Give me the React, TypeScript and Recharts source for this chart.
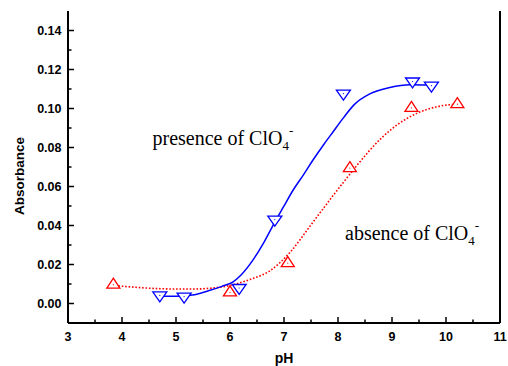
import React from 'react';
import {
  ComposedChart,
  Line,
  Scatter,
  XAxis,
  YAxis,
  Customized,
} from 'recharts';

// measured points (pH, absorbance)
const presencePoints = [
  { x: 4.7, y: 0.0039 },
  { x: 5.15, y: 0.0033 },
  { x: 6.17, y: 0.0077 },
  { x: 6.83, y: 0.0428 },
  { x: 8.1, y: 0.1074 },
  { x: 9.38, y: 0.1136 },
  { x: 9.73, y: 0.1115 },
];

const absencePoints = [
  { x: 3.84, y: 0.0099 },
  { x: 6.0, y: 0.006 },
  { x: 7.07, y: 0.021 },
  { x: 8.22, y: 0.0697 },
  { x: 9.36, y: 0.1006 },
  { x: 10.21, y: 0.1025 },
];

// fitted curves
const presenceFit = [
  { x: 4.7, y: 0.0037 }, { x: 5.0, y: 0.0037 }, { x: 5.3, y: 0.0043 },
  { x: 5.6, y: 0.0065 }, { x: 5.85, y: 0.0088 }, { x: 6.05, y: 0.011 },
  { x: 6.2, y: 0.0145 }, { x: 6.43, y: 0.0225 }, { x: 6.62, y: 0.031 },
  { x: 6.77, y: 0.0387 }, { x: 6.99, y: 0.0495 }, { x: 7.17, y: 0.0582 },
  { x: 7.36, y: 0.066 }, { x: 7.54, y: 0.0737 }, { x: 7.73, y: 0.0813 },
  { x: 7.91, y: 0.0881 }, { x: 8.1, y: 0.0952 }, { x: 8.3, y: 0.102 },
  { x: 8.59, y: 0.1075 }, { x: 8.96, y: 0.1108 }, { x: 9.33, y: 0.1122 },
  { x: 9.7, y: 0.112 },
];

const absenceFit = [
  { x: 3.87, y: 0.0092 }, { x: 4.3, y: 0.0082 }, { x: 4.7, y: 0.0076 },
  { x: 5.1, y: 0.0074 }, { x: 5.44, y: 0.0075 }, { x: 5.7, y: 0.008 },
  { x: 5.94, y: 0.0089 }, { x: 6.15, y: 0.0103 }, { x: 6.37, y: 0.0123 },
  { x: 6.74, y: 0.0168 }, { x: 7.11, y: 0.0262 }, { x: 7.48, y: 0.0396 },
  { x: 7.85, y: 0.0532 }, { x: 8.04, y: 0.06 }, { x: 8.35, y: 0.0708 },
  { x: 8.78, y: 0.0842 }, { x: 9.09, y: 0.0915 }, { x: 9.46, y: 0.0975 },
  { x: 9.83, y: 0.1009 }, { x: 10.2, y: 0.1022 },
];

const xTicks = [3, 3.5, 4, 4.5, 5, 5.5, 6, 6.5, 7, 7.5, 8, 8.5, 9, 9.5, 10, 10.5, 11];
const yTicks = [0, 0.01, 0.02, 0.03, 0.04, 0.05, 0.06, 0.07, 0.08, 0.09, 0.1, 0.11, 0.12, 0.13, 0.14];

const BLUE = '#0000ff';
const RED = '#ff0000';
const tickFont = { fontFamily: 'Liberation Sans, Arial, sans-serif', fontWeight: 700, fontSize: 12.5 };

const isMajorX = (v: number) => Math.abs(v - Math.round(v)) < 1e-6;
const isMajorY = (v: number) => Math.abs(v * 50 - Math.round(v * 50)) < 1e-6;

const BottomTick = (props: any) => {
  const { x, y, payload } = props;
  const major = isMajorX(payload.value);
  return (
    <g>
      <line x1={x} x2={x} y1={y} y2={y - (major ? 6 : 3.5)} stroke="#000" strokeWidth={1.5} />
      {major && (
        <text x={x} y={y + 17.5} textAnchor="middle" fill="#000" {...tickFont}>
          {payload.value}
        </text>
      )}
    </g>
  );
};

const LeftTick = (props: any) => {
  const { x, y, payload } = props;
  const major = isMajorY(payload.value);
  return (
    <g>
      <line x1={x} x2={x + (major ? 6 : 3.5)} y1={y} y2={y} stroke="#000" strokeWidth={1.5} />
      {major && (
        <text x={x - 6.5} y={y + 4.5} textAnchor="end" fill="#000" {...tickFont}>
          {payload.value.toFixed(2)}
        </text>
      )}
    </g>
  );
};

const RightTick = (props: any) => {
  const { x, y } = props;
  return <line x1={x} x2={x + 3} y1={y} y2={y} stroke="#000" strokeWidth={1.5} />;
};

const UpTriangle = (props: any) => {
  const { cx, cy } = props;
  if (cx == null || cy == null) return null;
  return (
    <g>
      <path d={`M${cx},${cy - 6} L${cx + 6.5},${cy + 4} L${cx - 6.5},${cy + 4} Z`} fill="#fff" stroke={RED} strokeWidth={1.3} />
      <circle cx={cx} cy={cy + 0.5} r={0.6} fill={RED} />
    </g>
  );
};

const DownTriangle = (props: any) => {
  const { cx, cy } = props;
  if (cx == null || cy == null) return null;
  return (
    <g>
      <path d={`M${cx - 7},${cy - 4} L${cx + 7},${cy - 4} L${cx},${cy + 6} Z`} fill="#fff" stroke={BLUE} strokeWidth={1.3} />
      <circle cx={cx} cy={cy - 0.5} r={0.6} fill={BLUE} />
    </g>
  );
};

const Annotations = () => (
  <g fill="#000">
    <text x={152.5} y={145} fontFamily="Liberation Serif, Times New Roman, serif" fontSize={20}>
      presence of ClO
      <tspan fontSize={13} dy={5}>4</tspan>
      <tspan fontSize={13} dy={-15}>-</tspan>
    </text>
    <text x={345} y={240} fontFamily="Liberation Serif, Times New Roman, serif" fontSize={20}>
      absence of ClO
      <tspan fontSize={13} dy={5}>4</tspan>
      <tspan fontSize={13} dy={-15}>-</tspan>
    </text>
    <text
      x={24}
      y={176}
      transform="rotate(-90 24 176)"
      textAnchor="middle"
      fontFamily="Liberation Sans, Arial, sans-serif"
      fontWeight={700}
      fontSize={13.5}
    >
      Absorbance
    </text>
    <text x={284} y={363} textAnchor="middle" fontFamily="Liberation Sans, Arial, sans-serif" fontWeight={700} fontSize={14}>
      pH
    </text>
  </g>
);

export default function App() {
  return (
    <div style={{ position: 'absolute', left: 0, top: 0, width: 508, height: 366, background: '#fff' }}>
      <ComposedChart width={508} height={366} margin={{ top: 11, right: 0, bottom: 0, left: 0 }}>
        <XAxis
          xAxisId="bottom"
          type="number"
          dataKey="x"
          domain={[3, 11]}
          ticks={xTicks}
          interval={0}
          height={43}
          tickSize={0}
          tickMargin={0}
          tickLine={false}
          tick={<BottomTick />}
          axisLine={{ stroke: '#000', strokeWidth: 2 }}
          allowDataOverflow
        />
        <XAxis
          xAxisId="top"
          orientation="top"
          type="number"
          domain={[3, 11]}
          height={0}
          tick={false}
          tickLine={false}
          axisLine={{ stroke: '#000', strokeWidth: 2 }}
        />
        <YAxis
          yAxisId="left"
          type="number"
          domain={[-0.01, 0.15]}
          ticks={yTicks}
          interval={0}
          width={68}
          tickSize={0}
          tickMargin={0}
          tickLine={false}
          tick={<LeftTick />}
          axisLine={{ stroke: '#000', strokeWidth: 2 }}
          allowDataOverflow
        />
        <YAxis
          yAxisId="right"
          orientation="right"
          type="number"
          domain={[-0.01, 0.15]}
          ticks={yTicks}
          interval={0}
          width={8}
          tickSize={0}
          tickMargin={0}
          tickLine={false}
          tick={<RightTick />}
          axisLine={{ stroke: '#000', strokeWidth: 2 }}
        />
        <Line
          xAxisId="bottom"
          yAxisId="left"
          data={absenceFit}
          dataKey="y"
          type="monotone"
          stroke={RED}
          strokeWidth={1.6}
          strokeDasharray="1.6 1.8"
          dot={false}
          activeDot={false}
          isAnimationActive={false}
        />
        <Line
          xAxisId="bottom"
          yAxisId="left"
          data={presenceFit}
          dataKey="y"
          type="monotone"
          stroke={BLUE}
          strokeWidth={1.5}
          dot={false}
          activeDot={false}
          isAnimationActive={false}
        />
        <Scatter
          xAxisId="bottom"
          yAxisId="left"
          data={absencePoints}
          dataKey="y"
          shape={<UpTriangle />}
          isAnimationActive={false}
        />
        <Scatter
          xAxisId="bottom"
          yAxisId="left"
          data={presencePoints}
          dataKey="y"
          shape={<DownTriangle />}
          isAnimationActive={false}
        />
        <Customized component={<Annotations />} />
      </ComposedChart>
    </div>
  );
}
